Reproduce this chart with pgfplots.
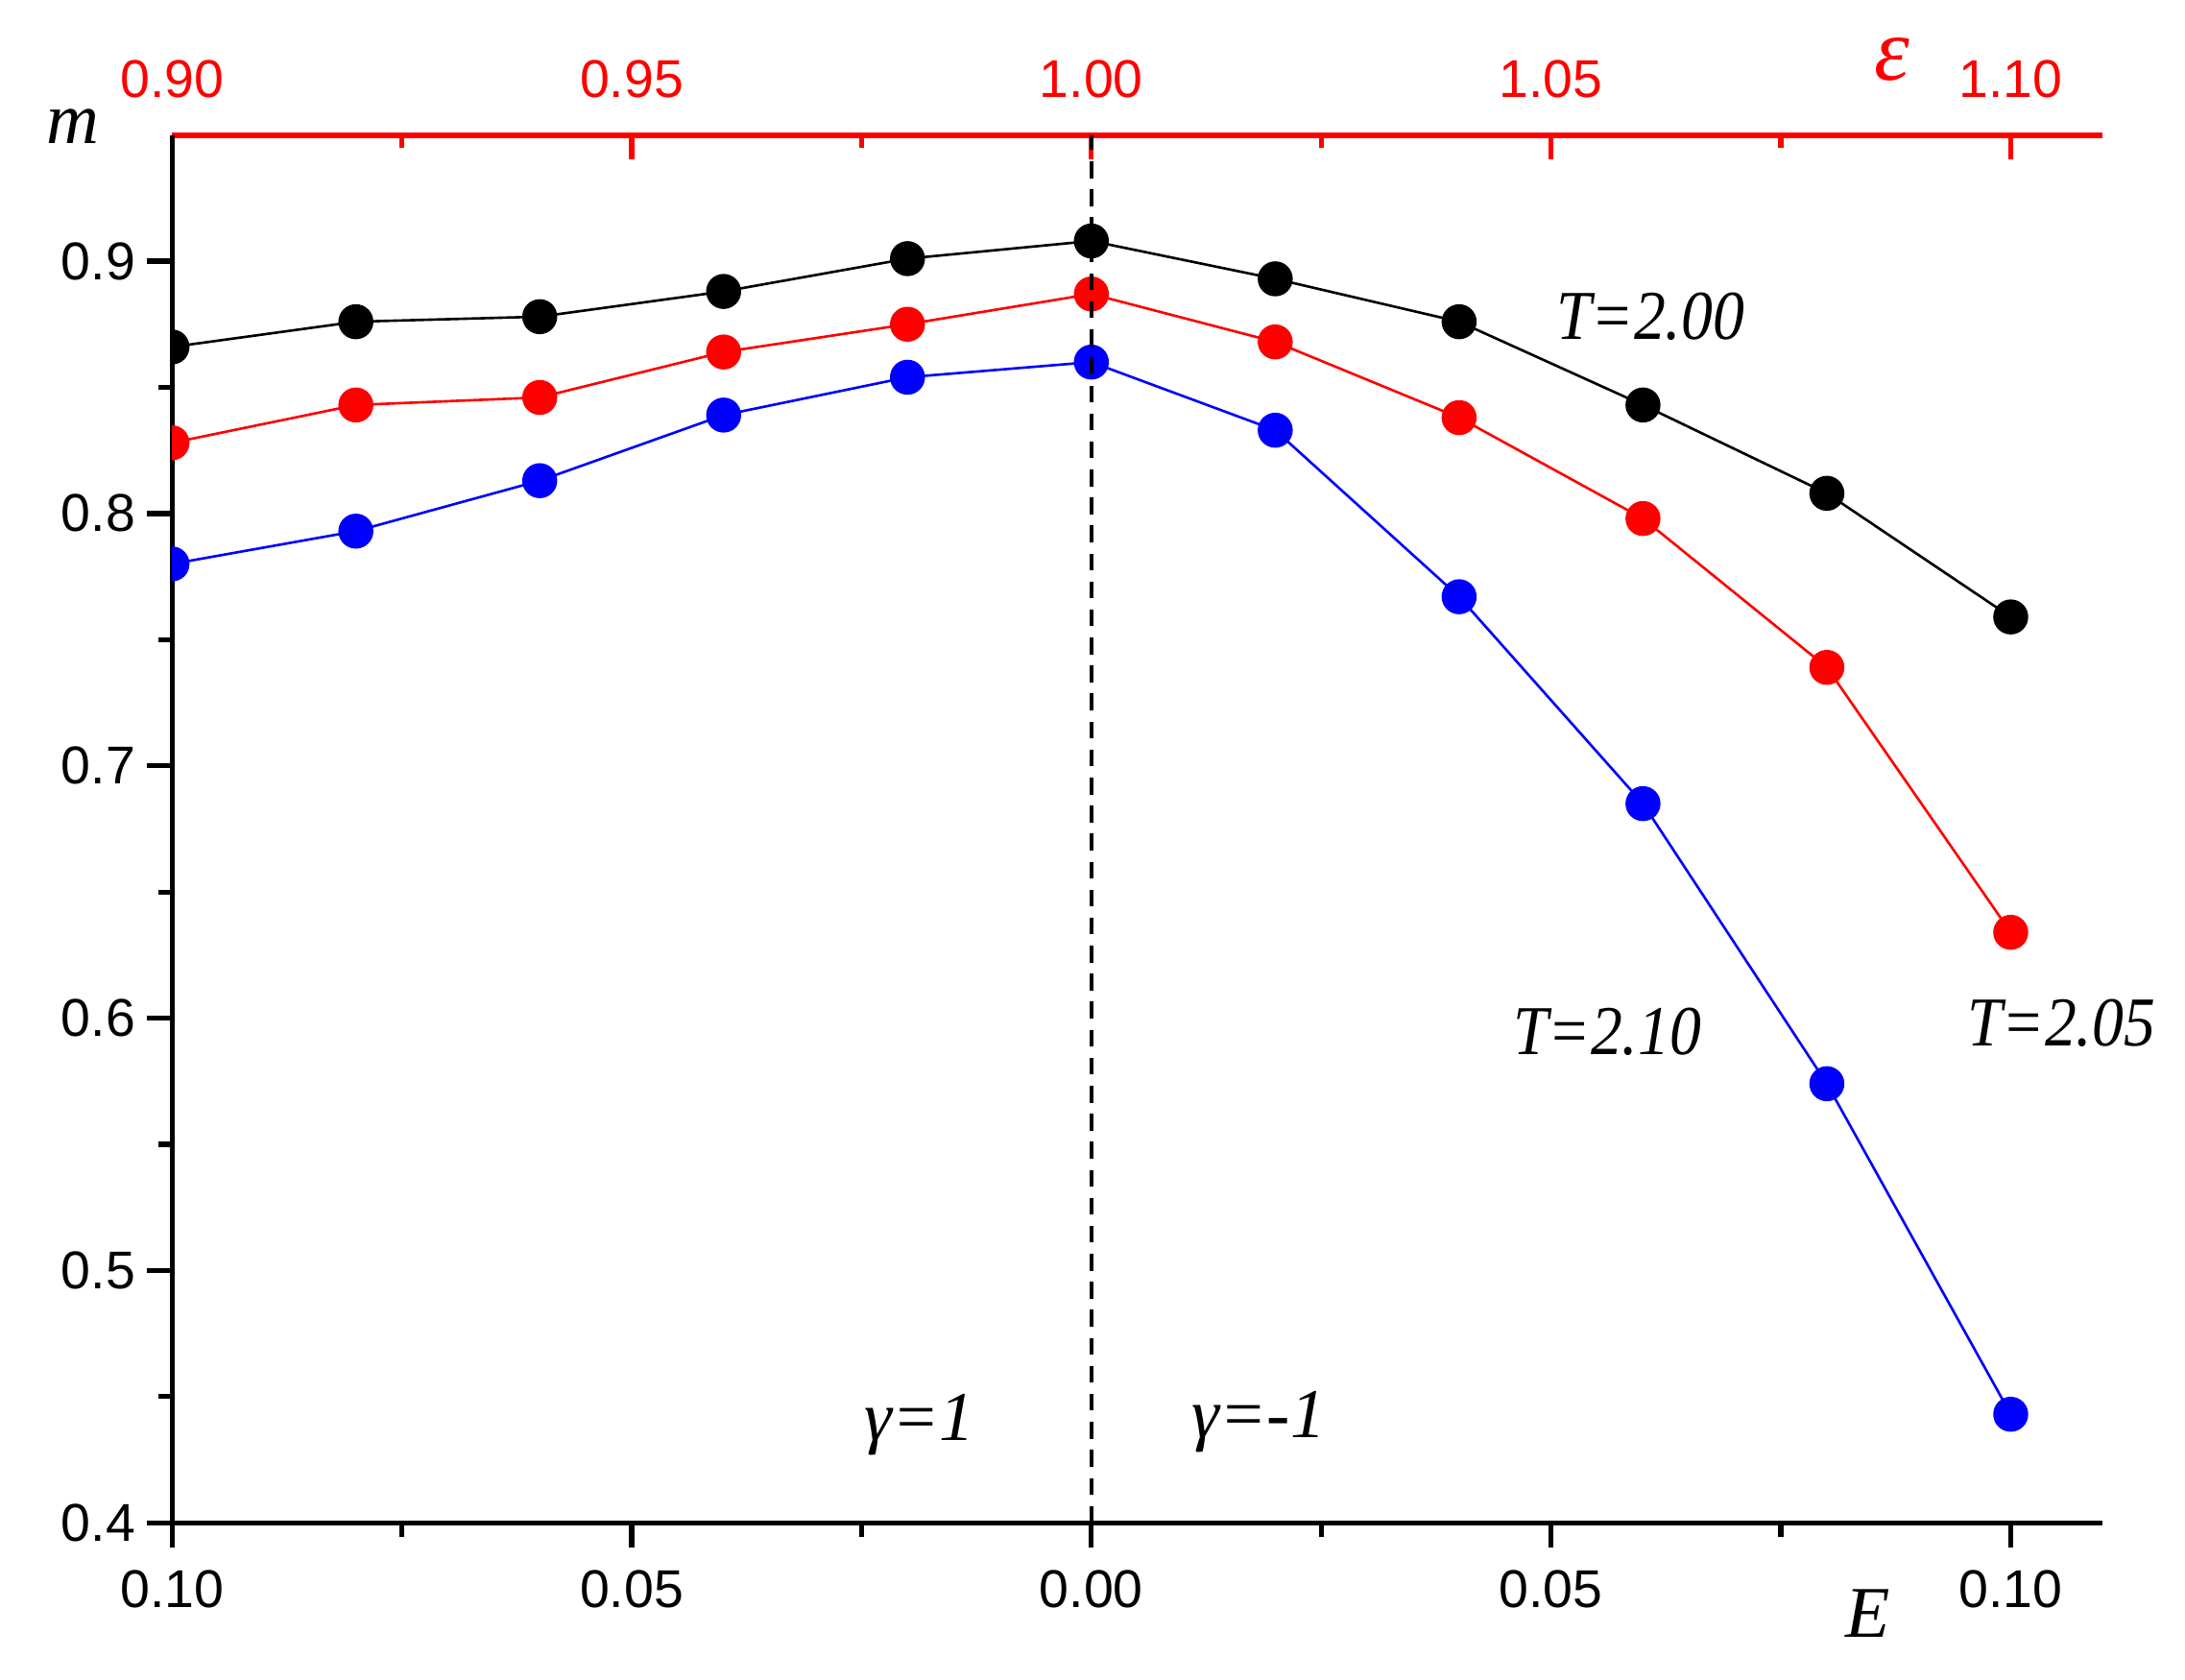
\documentclass[border=0pt]{standalone}
\usepackage{fontspec}
\setmainfont{Liberation Serif}
\newfontfamily\tickfont{Liberation Sans}
\usepackage{pgfplots}
\pgfplotsset{compat=1.18}
\begin{document}
\begin{tikzpicture}
\begin{axis}[
 scale only axis, width=344.6pt, height=247.7pt,
 xmin=0.9, xmax=1.11, ymin=0.4, ymax=0.95,
 axis x line*=top, axis y line=none,
 axis line style={-, red, line width=1pt},
 xtick={0.9,0.95,1,1.05,1.1},
 xticklabels={0.90,0.95,1.00,1.05,1.10},
 minor xtick={0.925,0.975,1.025,1.075},
 ytick=\empty,
 tick align=inside,
 major tick length=4.3pt, minor tick length=2.3pt,
 tick style={red, line width=0.9pt},
 tick label style={red, font=\tickfont\fontsize{9.5}{11}\selectfont},
 xticklabel style={yshift=3pt},
 clip=false,
]
\node[font=\itshape\fontsize{13}{15}\selectfont] at (axis cs:0.8892,0.9536) {m};
\node[red, font=\itshape\fontsize{16}{18}\selectfont] at (axis cs:1.0871,0.980) {ε};
\node[font=\itshape\fontsize{13}{15}\selectfont] at (axis cs:1.0845,0.364) {E};
\node[font=\itshape\fontsize{12.5}{14}\selectfont] at (axis cs:1.0608,0.878) {\scalebox{0.9}[1]{T=2.00}};
\node[font=\itshape\fontsize{12.5}{14}\selectfont] at (axis cs:1.0561,0.5945) {\scalebox{0.9}[1]{T=2.10}};
\node[font=\itshape\fontsize{12.5}{14}\selectfont] at (axis cs:1.1055,0.598) {\scalebox{0.9}[1]{T=2.05}};
\node[font=\itshape\fontsize{12.5}{14}\selectfont] at (axis cs:0.9813,0.4387) {γ=1};
\node[font=\itshape\fontsize{12.5}{14}\selectfont] at (axis cs:1.0182,0.4398) {γ=-1};
\end{axis}
\begin{axis}[
 name=ax,
 scale only axis, width=344.6pt, height=247.7pt,
 xmin=-0.1, xmax=0.11, ymin=0.4, ymax=0.95,
 axis x line*=bottom, axis y line*=left,
 axis line style={-, line width=0.9pt, black},
 xtick={-0.1,-0.05,0,0.05,0.1},
 xticklabels={0.10,0.05,0.00,0.05,0.10},
 minor xtick={-0.075,-0.025,0.025,0.075},
 ytick={0.4,0.5,0.6,0.7,0.8,0.9},
 yticklabels={0.4,0.5,0.6,0.7,0.8,0.9},
 minor ytick={0.45,0.55,0.65,0.75,0.85},
 tick align=outside,
 major tick length=4.5pt, minor tick length=2.5pt,
 tick style={black, line width=0.9pt},
 tick label style={font=\tickfont\fontsize{9.5}{11}\selectfont},
 xticklabel style={yshift=-0.5pt},
 yticklabel style={xshift=1.5pt},
 every axis plot/.append style={line width=0.45pt},
 mark size=2.9pt,
 clip marker paths=true,
]
\addplot[black, mark=*, mark options={solid}] coordinates {
(-0.10,0.866) (-0.08,0.876) (-0.06,0.878) (-0.04,0.888) (-0.02,0.901)
(0.00,0.908) (0.02,0.893) (0.04,0.876) (0.06,0.843) (0.08,0.808) (0.10,0.759)};
\addplot[red, mark=*, mark options={solid}] coordinates {
(-0.10,0.828) (-0.08,0.843) (-0.06,0.846) (-0.04,0.864) (-0.02,0.875)
(0.00,0.887) (0.02,0.868) (0.04,0.838) (0.06,0.798) (0.08,0.739) (0.10,0.634)};
\addplot[blue, mark=*, mark options={solid}] coordinates {
(-0.10,0.780) (-0.08,0.793) (-0.06,0.813) (-0.04,0.839) (-0.02,0.854)
(0.00,0.860) (0.02,0.833) (0.04,0.767) (0.06,0.685) (0.08,0.574) (0.10,0.443)};
\addplot[black, line width=0.7pt, dash pattern=on 3pt off 2pt] coordinates {(0,0.4) (0,0.95)};
\end{axis}
\path ([shift={(-30.7pt,-27.95pt)}]ax.south west) rectangle ([shift={(14.7pt,24.1pt)}]ax.north east);
\end{tikzpicture}
\end{document}
